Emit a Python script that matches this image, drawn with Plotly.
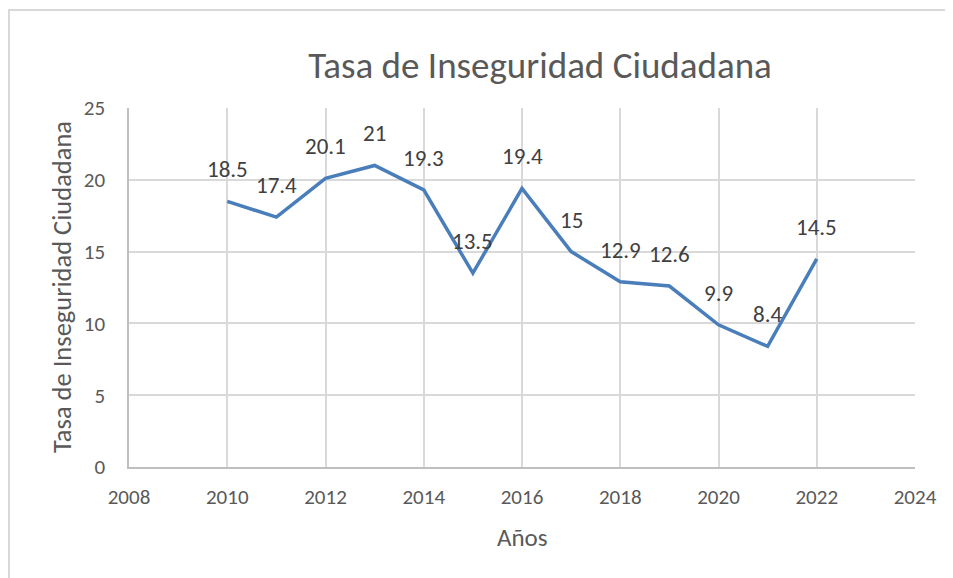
import plotly.graph_objects as go

years = [2010, 2011, 2012, 2013, 2014, 2015, 2016, 2017, 2018, 2019, 2020, 2021, 2022]
tasa = [18.5, 17.4, 20.1, 21, 19.3, 13.5, 19.4, 15, 12.9, 12.6, 9.9, 8.4, 14.5]
labels = ["18.5", "17.4", "20.1", "21", "19.3", "13.5", "19.4", "15", "12.9", "12.6", "9.9", "8.4", "14.5"]

title_text = "Tasa de Inseguridad Ciudadana"
x_title = "Años"
y_title = "Tasa de Inseguridad Ciudadana"

FONT = "Carlito, Lato, 'Liberation Sans', sans-serif"
TXT = "#595959"
GRID = "#d9d9d9"

# page body has an 8px margin, so the figure is drawn offset by 8px
OFF = 8
W, H = 953 - OFF, 578 - OFF
L, R, T, B = 129 - OFF, 915 - OFF, 108 - OFF, 467 - OFF

fig = go.Figure()
fig.add_trace(go.Scatter(
    x=years, y=tasa, mode="lines",
    line=dict(color="#4a7ebb", width=3.5),
    hoverinfo="x+y", showlegend=False,
))

for x, y, t in zip(years, tasa, labels):
    fig.add_annotation(x=x, y=y, text=t, showarrow=False, yshift=32,
                       font=dict(family=FONT, size=23, color="#404040"))

def px_to_paper_x(px):
    return (px - L) / (R - L)

def px_to_paper_y(py):
    return (B - py) / (B - T)

# chart border
fig.add_shape(type="rect", xref="paper", yref="paper",
              x0=px_to_paper_x(1), x1=px_to_paper_x(980),
              y0=px_to_paper_y(620), y1=px_to_paper_y(2),
              line=dict(color="#d9d9d9", width=2), fillcolor="rgba(0,0,0,0)", layer="below")

# axis titles placed like the reference
fig.add_annotation(xref="paper", yref="paper", x=px_to_paper_x(522 - OFF), y=px_to_paper_y(537 - OFF),
                   text=x_title, showarrow=False, xanchor="center", yanchor="middle",
                   font=dict(family=FONT, size=25, color=TXT))
fig.add_annotation(xref="paper", yref="paper", x=px_to_paper_x(62 - OFF), y=px_to_paper_y(287 - OFF),
                   text=y_title, showarrow=False, textangle=-90, xanchor="center", yanchor="middle",
                   font=dict(family=FONT, size=26.5, color=TXT))

fig.update_layout(
    width=W, height=H,
    margin=dict(l=L, r=W - R, t=T, b=H - B),
    paper_bgcolor="white", plot_bgcolor="white",
    font=dict(family=FONT, color=TXT),
    title=dict(text=title_text, x=(540 - OFF) / W, xanchor="center", y=1 - (65 - OFF) / H, yanchor="middle",
               font=dict(family=FONT, size=37, color=TXT)),
    xaxis=dict(
        range=[2008, 2024], tickmode="linear", tick0=2008, dtick=2,
        showgrid=True, gridcolor=GRID, gridwidth=1.5,
        showline=True, linecolor="#bfbfbf", linewidth=1.5,
        zeroline=False, ticks="outside", ticklen=10, tickcolor="rgba(0,0,0,0)",
        tickfont=dict(family=FONT, size=21, color=TXT),
    ),
    yaxis=dict(
        range=[0, 25], tickmode="linear", tick0=0, dtick=5,
        showgrid=True, gridcolor=GRID, gridwidth=1.5,
        showline=True, linecolor="#bfbfbf", linewidth=1.5,
        zeroline=False, ticks="outside", ticklen=18, tickcolor="rgba(0,0,0,0)",
        tickfont=dict(family=FONT, size=21, color=TXT),
    ),
)

fig.write_html("out.html")
